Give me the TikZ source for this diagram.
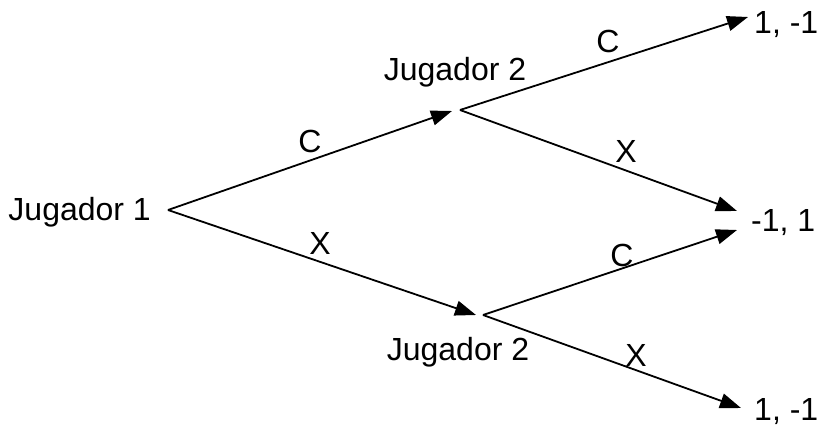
\documentclass[tikz,border=0pt]{standalone}
\usepackage{fontspec}
\setmainfont{Liberation Sans}
\usetikzlibrary{arrows.meta}
\begin{document}
\begin{tikzpicture}[x=1pt,y=-1pt,
  lbl/.style={font=\fontsize{32}{35}\selectfont, inner sep=0pt},
  branch/.style={line width=1.8pt, -{Triangle[length=21pt,width=15pt]}}]
\useasboundingbox (0,0) rectangle (819,430);
% texts
\node[lbl, anchor=east] (j1) at (151,212) {Jugador 1};
\node[lbl] (j2a) at (455,72) {Jugador 2};
\node[lbl] (j2b) at (458,352) {Jugador 2};
\node[lbl, anchor=west] (o1) at (754,25) {1, -1};
\node[lbl, anchor=west] (o2) at (751,223) {-1, 1};
\node[lbl, anchor=west] (o3) at (754,412) {1, -1};
% points
\coordinate (p1) at (168,210);
\coordinate (p2) at (460,110);
\coordinate (p3) at (483,315);
\coordinate (t2) at (452,111);
\coordinate (t3) at (476,315);
\coordinate (t4) at (748,17);
\coordinate (t5) at (737,211);
\coordinate (t6) at (737,230);
\coordinate (t7) at (741,408);
% branches
\draw[branch] (p1) -- (t2);
\draw[branch] (p1) -- (t3);
\draw[branch] (p2) -- (t4);
\draw[branch] (p2) -- (t5);
\draw[branch] (p3) -- (t6);
\draw[branch] (p3) -- (t7);
% labels
\node[lbl] (c1) at (310,141) {C};
\node[lbl] (x1) at (320,243) {X};
\node[lbl] (c2) at (608,41) {C};
\node[lbl] (x2) at (626,151) {X};
\node[lbl] (c3) at (622,255) {C};
\node[lbl] (x3) at (636,355) {X};
\end{tikzpicture}
\end{document}
